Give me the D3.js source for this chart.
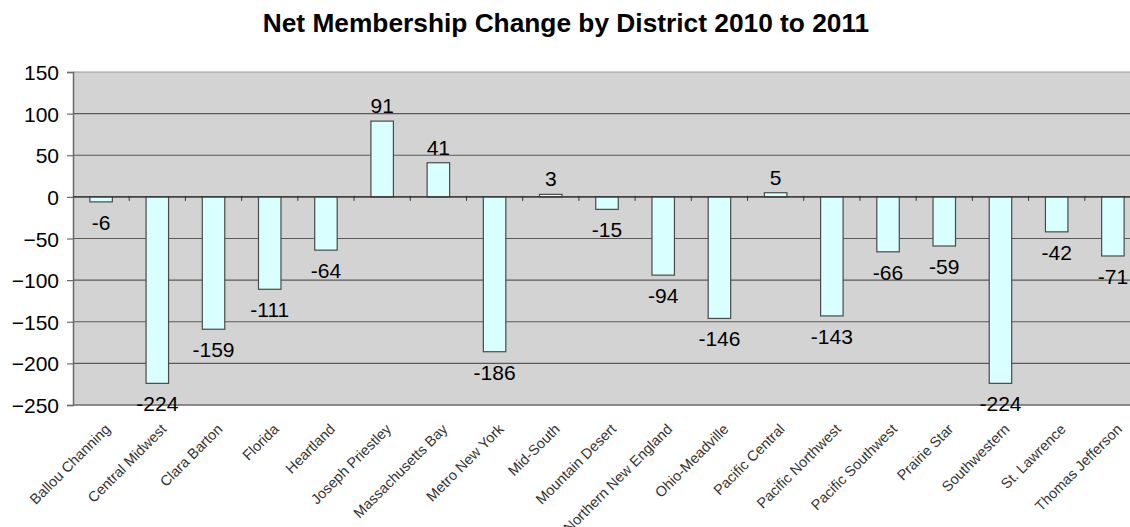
<!DOCTYPE html>
<html>
<head>
<meta charset="utf-8">
<script src="https://cdn.jsdelivr.net/npm/d3@7"></script>
<style>
  html, body { margin: 0; padding: 0; background: #fff; }
  svg { display: block; font-family: "Liberation Sans", Arial, sans-serif; }
</style>
</head>
<body>
<svg id="chart" width="1130" height="527"></svg>
<script>
const categories = ["Ballou Channing","Central Midwest","Clara Barton","Florida","Heartland","Joseph Priestley","Massachusetts Bay","Metro New York","Mid-South","Mountain Desert","Northern New England","Ohio-Meadville","Pacific Central","Pacific Northwest","Pacific Southwest","Prairie Star","Southwestern","St. Lawrence","Thomas Jefferson"];
const values = [-6,-224,-159,-111,-64,91,41,-186,3,-15,-94,-146,5,-143,-66,-59,-224,-42,-71];
const yTicks = [150,100,50,0,-50,-100,-150,-200,-250];
const title = "Net Membership Change by District 2010 to 2011";

const svg = d3.select("#chart");
const pLeft = 73, pRight = 1141, pTop = 72, pBottom = 405;

const x = d3.scaleBand().domain(categories).range([pLeft, pRight]).padding(0);
const y = d3.scaleLinear().domain([-250, 150]).range([pBottom, pTop]);

// title
svg.append("text").attr("x", 566).attr("y", 32).attr("text-anchor", "middle")
  .attr("font-size", 26.3).attr("font-weight", "bold").attr("fill", "#000").text(title);

// plot background
svg.append("rect").attr("x", pLeft).attr("y", pTop).attr("width", pRight - pLeft).attr("height", pBottom - pTop)
  .attr("fill", "#d3d3d3");

// gridlines
svg.append("g").selectAll("line").data(yTicks.filter(d => d !== -250)).join("line")
  .attr("x1", pLeft).attr("x2", pRight)
  .attr("y1", d => y(d)).attr("y2", d => y(d))
  .attr("stroke", d => d === 150 ? "#9a9a9a" : "#5a5a5a").attr("stroke-width", 1.2);

// y axis
const yAxis = d3.axisLeft(y).tickValues(yTicks).tickSize(6).tickPadding(8).tickFormat(d3.format("d"));
const gy = svg.append("g").attr("transform", `translate(${pLeft},0)`).call(yAxis);
gy.select(".domain").attr("stroke", "#6a6a6a").attr("stroke-width", 1.5);
gy.selectAll(".tick line").attr("stroke", "#6a6a6a").attr("stroke-width", 1.2);
gy.selectAll(".tick text").attr("font-size", 21).attr("fill", "#000")
  .attr("font-family", "Liberation Sans, Arial, sans-serif").attr("dy", "0.36em");

// bottom axis line
svg.append("line").attr("x1", pLeft).attr("x2", pRight).attr("y1", pBottom).attr("y2", pBottom)
  .attr("stroke", "#6a6a6a").attr("stroke-width", 1.5);

// category ticks on the zero line
svg.append("g").selectAll("line").data(categories.slice(1)).join("line")
  .attr("x1", d => x(d)).attr("x2", d => x(d))
  .attr("y1", y(0) - 1).attr("y2", y(0) + 4)
  .attr("stroke", "#333").attr("stroke-width", 1);

// bars
const bw = x.bandwidth() * 0.4;
svg.append("g").selectAll("rect").data(values).join("rect")
  .attr("x", (d, i) => x(categories[i]) + x.bandwidth() / 2 - bw / 2)
  .attr("width", bw)
  .attr("y", d => y(Math.max(0, d)))
  .attr("height", d => Math.abs(y(d) - y(0)))
  .attr("fill", "#d9ffff").attr("stroke", "#4a4a4a").attr("stroke-width", 1.2);

// zero line on top
svg.append("line").attr("x1", pLeft).attr("x2", pRight).attr("y1", y(0)).attr("y2", y(0))
  .attr("stroke", "#333").attr("stroke-width", 1.2);

// value labels
svg.append("g").selectAll("text").data(values).join("text")
  .attr("x", (d, i) => x(categories[i]) + x.bandwidth() / 2)
  .attr("y", d => d >= 0 ? y(d) - 8 : y(d) + 28)
  .attr("text-anchor", "middle").attr("font-size", 21).attr("fill", "#000")
  .text(d => d);

// category labels
svg.append("g").selectAll("text").data(categories).join("text")
  .attr("transform", d => `translate(${x(d) + x.bandwidth() / 2 + 10},430) rotate(-45)`)
  .attr("text-anchor", "end").attr("font-size", 14.5).attr("fill", "#333")
  .text(d => d);
</script>
</body>
</html>
